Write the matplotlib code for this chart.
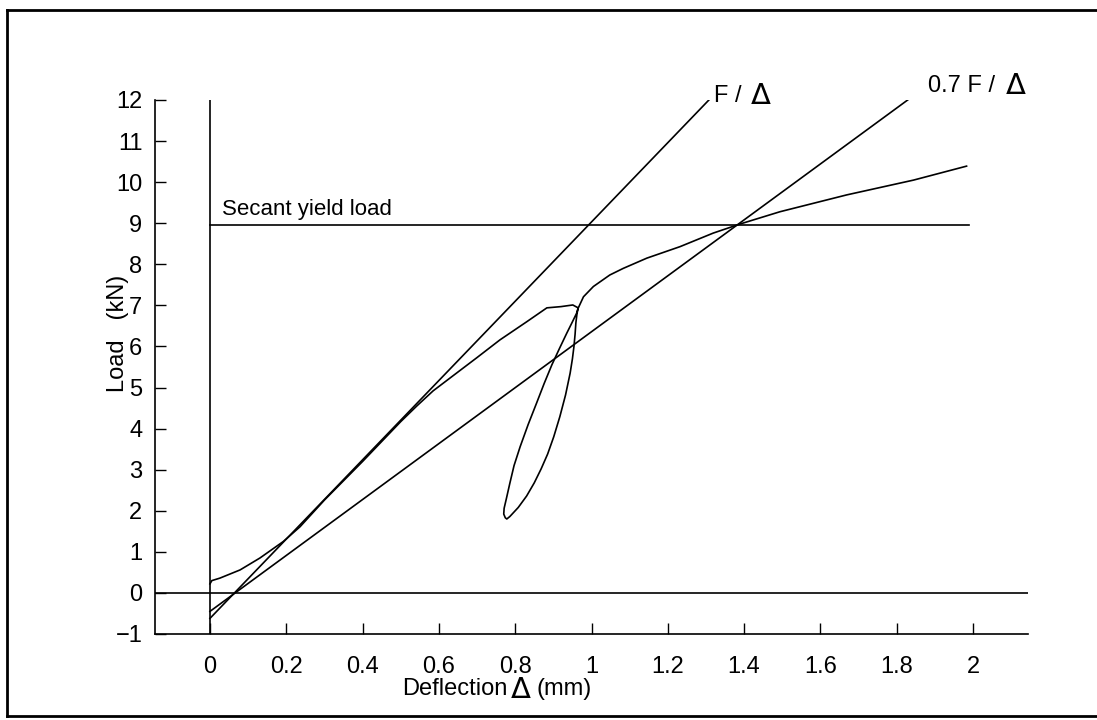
import matplotlib
matplotlib.use("Agg")
import matplotlib.pyplot as plt
from matplotlib.lines import Line2D

plt.rcParams['font.family'] = ['Liberation Sans', 'DejaVu Sans']

# load-deflection record (loading, unloading loop, reloading)
curve_x = [0.0, 0.005, 0.026, 0.079, 0.131, 0.192, 0.236, 0.30, 0.40, 0.50,
           0.542, 0.585, 0.629, 0.70, 0.76, 0.83, 0.883, 0.92, 0.951, 0.965,
           0.961, 0.950, 0.935, 0.916, 0.896, 0.876, 0.856, 0.834, 0.813,
           0.797, 0.786, 0.777, 0.771, 0.770, 0.774, 0.778,
           0.786, 0.808, 0.830, 0.850, 0.868, 0.885, 0.901, 0.917, 0.932, 0.944,
           0.950, 0.954, 0.957, 0.959, 0.962, 0.965,
           0.979, 1.005, 1.048, 1.083, 1.145, 1.232, 1.319, 1.389,
           1.494, 1.669, 1.844, 1.983]
curve_y = [0.22, 0.30, 0.36, 0.56, 0.85, 1.25, 1.61, 2.26, 3.20, 4.17,
           4.55, 4.92, 5.23, 5.73, 6.16, 6.60, 6.94, 6.97, 7.01, 6.94,
           6.81, 6.60, 6.32, 5.95, 5.55, 5.10, 4.62, 4.10, 3.56,
           3.10, 2.67, 2.30, 2.06, 1.92, 1.83, 1.80,
           1.86, 2.08, 2.36, 2.68, 3.02, 3.38, 3.80, 4.29, 4.82, 5.35,
           5.70, 6.00, 6.30, 6.57, 6.80, 6.93,
           7.21, 7.46, 7.74, 7.90, 8.15, 8.43, 8.76, 8.98,
           9.28, 9.69, 10.05, 10.39]

# stiffness lines
f_line_x = [0.0, 1.318]
f_line_y = [-0.62, 12.1]
f07_line_x = [0.0, 1.88]
f07_line_y = [-0.45, 12.35]

secant_load = 8.95
secant_x = [0.0, 1.99]

x_ticks = [0, 0.2, 0.4, 0.6, 0.8, 1, 1.2, 1.4, 1.6, 1.8, 2]
x_labels = ['0', '0.2', '0.4', '0.6', '0.8', '1', '1.2', '1.4', '1.6', '1.8', '2']
y_ticks = list(range(-1, 13))
y_labels = ['\u22121'] + [str(v) for v in range(0, 13)]

fs = 17
fig = plt.figure(figsize=(10.97, 7.2), dpi=100)
ax = fig.add_axes([155 / 1097, 1 - 634 / 720, (1028 - 155) / 1097, (634 - 100) / 720])

lw = 1.2
ax.plot(curve_x, curve_y, color='black', lw=lw)
ax.plot(f_line_x, f_line_y, color='black', lw=lw)
ax.plot(f07_line_x, f07_line_y, color='black', lw=lw)
ax.plot(secant_x, [secant_load, secant_load], color='black', lw=lw)
ax.axhline(0, color='black', lw=lw)
ax.axvline(0, color='black', lw=lw)

ax.set_xlim(-0.144, 2.144)
ax.set_ylim(-1, 12)
ax.spines['top'].set_visible(False)
ax.spines['right'].set_visible(False)
ax.spines['left'].set_linewidth(lw)
ax.spines['bottom'].set_linewidth(lw)

ax.set_xticks(x_ticks)
ax.set_xticklabels(x_labels)
ax.set_yticks(y_ticks)
ax.set_yticklabels(y_labels)
ax.tick_params(axis='x', direction='in', length=8, width=1, pad=16, labelsize=fs)
ax.tick_params(axis='y', direction='in', length=8, width=1, pad=9, labelsize=fs)

ax.text(0.031, secant_load + 0.12, 'Secant yield load', fontsize=16, ha='left', va='bottom')

# line labels
ax.text(f_line_x[1] + 0.003, f_line_y[1], 'F /', fontsize=fs, ha='left', va='center')
ax.text(1.418, f_line_y[1], '\u0394', fontsize=21, family='DejaVu Sans',
        ha='left', va='center')
ax.text(f07_line_x[1] + 0.003, f07_line_y[1], '0.7 F /', fontsize=fs, ha='left', va='center')
ax.text(2.087, f07_line_y[1], '\u0394', fontsize=21, family='DejaVu Sans',
        ha='left', va='center')

# axis titles
fig.text(118 / 1097, 1 - 333 / 720, 'Load   (kN)', rotation=90, fontsize=fs,
         ha='center', va='center')
fig.text(507 / 1097, 1 - 689 / 720, 'Deflection', fontsize=fs, ha='right', va='center')
fig.text(521 / 1097, 1 - 690 / 720, '\u0394', fontsize=21,
         family='DejaVu Sans', ha='center', va='center')
fig.text(536 / 1097, 1 - 689 / 720, '(mm)', fontsize=fs, ha='left', va='center')

# scanned page frame
fig.add_artist(Line2D([7 / 1097, 7 / 1097], [1 - 716 / 720, 1 - 10 / 720],
                      transform=fig.transFigure, color='black', lw=2))
fig.add_artist(Line2D([7 / 1097, 1], [1 - 10 / 720, 1 - 10 / 720],
                      transform=fig.transFigure, color='black', lw=2))
fig.add_artist(Line2D([7 / 1097, 1], [1 - 716 / 720, 1 - 716 / 720],
                      transform=fig.transFigure, color='black', lw=2))

fig.savefig('out.png', dpi=100)
